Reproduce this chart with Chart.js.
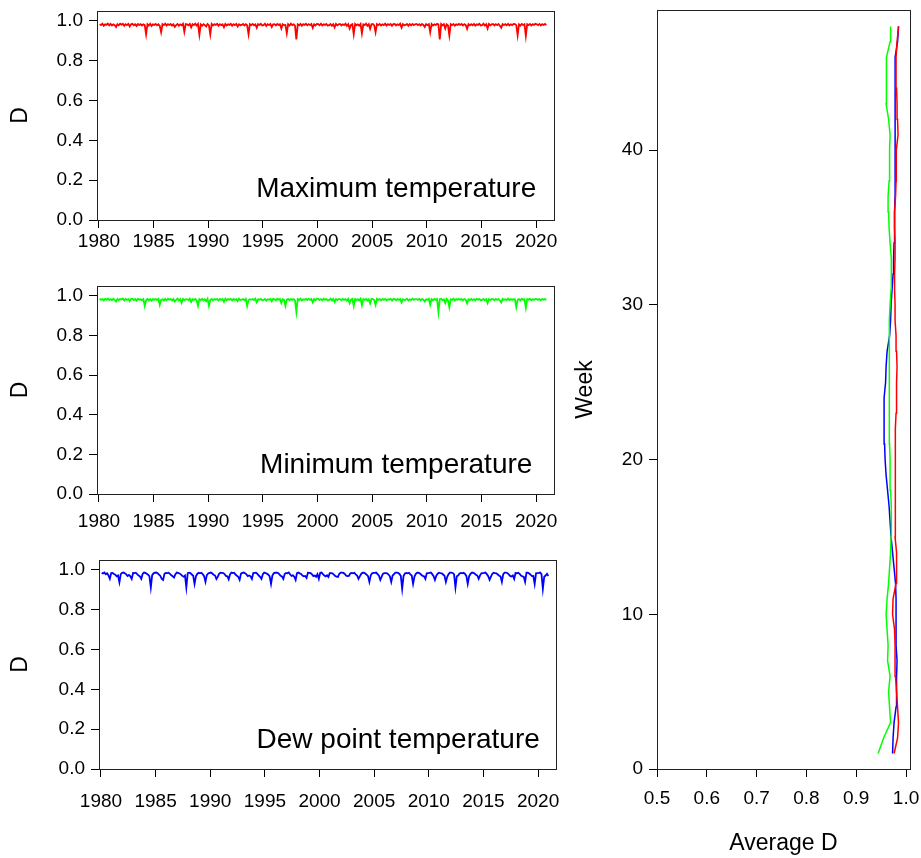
<!DOCTYPE html>
<html lang="en">
<head>
<meta charset="UTF-8" />
<title>D index by variable</title>
<script src="https://cdn.jsdelivr.net/npm/chart.js"></script>
<style>
  html, body { margin: 0; padding: 0; background: #fff; }
  body { width: 921px; height: 858px; position: relative; overflow: hidden; }
  canvas { position: absolute; }
  #maxChart { left: 0; top: 0; }
  #minChart { left: 0; top: 275px; }
  #dewChart { left: 0; top: 549px; }
  #weekChart { left: 570px; top: 0; }
</style>
</head>
<body>
<canvas id="maxChart" width="570" height="270"></canvas>
<canvas id="minChart" width="570" height="270"></canvas>
<canvas id="dewChart" width="570" height="270"></canvas>
<canvas id="weekChart" width="351" height="858"></canvas>

<script>
// ---- data ----
const YEAR_START = 1980;
const PER_YEAR = 8;   // values per year in the series below

const yearTicks = [1980, 1985, 1990, 1995, 2000, 2005, 2010, 2015, 2020];
const dTicks = [0, 0.2, 0.4, 0.6, 0.8, 1.0];
const weekTicks = [0, 10, 20, 30, 40];
const avgTicks = [0.5, 0.6, 0.7, 0.8, 0.9, 1.0];

// D x1000, one row per year (1980..2020)
const maxTemp = [
  984,979,986,976,983,980,987,978,
  985,977,983,979,970,984,978,986,
  981,986,976,984,979,985,972,983,
  986,978,983,975,985,980,984,977,
  983,979,933,984,977,986,975,983,
  980,985,978,983,975,943,984,979,
  986,977,984,980,985,976,983,970,
  979,985,976,983,978,986,946,984,
  983,978,985,968,984,979,986,977,
  985,931,983,976,984,979,972,985,
  978,933,985,977,984,980,986,976,
  984,979,983,968,985,977,983,980,
  986,976,984,979,985,972,983,978,
  980,985,977,984,978,933,984,979,
  985,978,983,966,984,980,986,977,
  979,986,975,984,979,985,970,983,
  984,977,985,980,983,962,984,979,
  980,938,984,977,986,979,983,976,
  907,983,978,985,976,984,980,986,
  978,984,979,985,965,983,977,985,
  984,978,986,977,983,980,985,976,
  979,985,976,984,968,985,978,983,
  985,977,983,979,986,975,984,962,
  980,984,933,985,978,983,976,985,
  938,983,979,986,976,984,960,983,
  985,978,943,984,979,985,977,983,
  979,986,977,984,980,985,976,984,
  985,977,983,979,986,966,984,978,
  980,985,976,984,978,985,979,983,
  985,979,984,977,985,980,970,984,
  979,984,943,985,977,983,979,986,
  983,907,985,978,984,962,983,977,
  928,984,979,985,976,983,980,985,
  980,985,977,984,979,960,984,978,
  984,978,985,976,983,980,986,977,
  979,986,977,984,962,985,978,983,
  985,977,984,979,985,976,966,984,
  980,984,978,985,977,983,979,985,
  984,979,928,983,976,985,980,984,
  925,983,979,985,977,984,980,986,
  983,979,985,977,984,980,985,979
];

const minTemp = [
  986,980,984,977,985,981,987,979,
  984,978,986,980,972,985,979,984,
  982,987,977,985,980,984,974,985,
  985,979,984,976,986,981,983,978,
  984,950,978,985,977,984,976,984,
  981,984,979,985,955,980,983,977,
  985,978,986,981,984,977,984,972,
  980,986,977,984,965,985,979,983,
  984,979,986,970,983,980,985,978,
  950,984,978,985,977,983,974,986,
  950,979,985,978,984,981,985,977,
  985,980,984,970,986,978,984,981,
  985,977,985,980,984,974,986,979,
  981,984,978,985,950,979,983,980,
  984,979,986,968,983,981,985,978,
  980,985,976,983,980,984,972,985,
  983,978,986,981,984,964,983,980,
  950,981,985,978,984,980,984,977,
  920,984,979,986,977,983,981,985,
  979,985,980,984,967,984,978,986,
  985,979,984,978,986,981,984,977,
  980,986,977,985,970,984,979,984,
  984,978,985,980,984,976,985,964,
  981,985,950,984,979,984,977,986,
  953,984,980,985,977,983,962,985,
  984,979,955,985,980,984,978,984,
  980,985,978,983,981,986,977,985,
  984,978,985,980,984,967,983,979,
  981,986,977,983,979,986,980,984,
  984,980,985,978,984,981,972,983,
  980,985,955,984,978,985,980,984,
  920,984,986,979,983,964,985,978,
  943,983,980,986,977,984,981,984,
  981,984,978,985,980,962,983,979,
  985,979,984,977,986,981,984,978,
  980,985,978,983,964,984,979,985,
  984,978,985,980,984,977,967,985,
  981,983,979,986,978,984,980,984,
  983,943,980,984,977,986,981,983,
  940,984,980,986,978,983,981,985,
  984,980,984,978,985,981,984,980
];

const dewTemp = [
  986,982,987,978,983,972,955,984,
  985,980,976,968,972,938,979,986,
  987,983,978,970,975,968,955,985,
  984,986,979,972,968,955,980,987,
  985,981,976,968,912,974,983,986,
  987,983,977,970,955,950,981,985,
  984,986,980,973,968,962,979,987,
  985,982,978,970,966,972,912,984,
  986,984,977,971,930,968,980,986,
  983,986,979,969,940,974,982,985,
  987,982,976,972,955,966,981,986,
  985,984,979,970,968,953,978,987,
  984,986,977,971,966,950,982,985,
  987,983,978,969,972,968,955,984,
  985,986,980,972,966,955,979,987,
  984,982,976,968,930,972,983,986,
  986,985,979,971,967,955,980,985,
  983,987,977,970,973,966,950,984,
  987,983,980,972,968,970,960,986,
  985,984,978,969,972,966,979,955,
  986,987,979,972,968,973,965,984,
  984,983,977,970,966,965,981,987,
  987,985,980,971,969,970,982,985,
  983,986,978,972,955,968,980,986,
  986,982,976,969,940,973,983,985,
  985,987,979,971,950,966,981,984,
  984,983,977,968,940,972,979,987,
  987,985,980,970,905,969,982,985,
  983,986,978,972,930,967,980,986,
  986,982,976,970,968,955,983,984,
  985,987,979,969,950,971,981,986,
  984,983,977,971,940,966,979,987,
  987,985,978,912,968,972,982,985,
  983,986,980,970,930,968,980,986,
  986,982,976,972,955,973,983,984,
  985,987,979,969,950,966,981,986,
  984,983,977,971,968,940,979,987,
  987,985,978,970,967,972,955,985,
  983,986,980,972,968,966,940,986,
  986,982,976,969,970,930,983,984,
  985,987,979,905,966,972,981,970
];

// average D by week (x1000)
const weeks = Array.from({ length: 48 }, (_, i) => i + 1);
const avgMax = [976,983,985,983,981,979,978,978,977,973,
                974,980,981,981,978,978,979,979,978,979,
                978,979,980,981,981,982,981,980,978,978,
                977,977,978,978,977,977,979,980,981,980,
                984,983,982,981,980,980,982,985];
const avgMin = [944,955,969,967,965,968,963,964,962,960,
                962,965,967,969,970,971,970,969,968,968,
                967,967,966,966,967,967,966,966,967,968,
                970,971,970,968,966,965,964,966,967,967,
                968,965,960,961,961,960,968,969];
const avgDew = [973,974,976,980,981,981,982,980,980,980,
                980,979,976,973,970,968,966,963,960,958,
                957,956,956,956,959,960,962,967,969,970,
                972,974,975,976,977,977,978,978,978,978,
                979,978,978,978,978,978,983,985];

// ---- chart helpers ----
const FONT = "'Liberation Sans', Arial, sans-serif";
Chart.defaults.font.family = FONT;
Chart.defaults.color = '#000';

const boxPlugin = {
  id: 'plotBox',
  afterDraw(chart) {
    const a = chart.chartArea, ctx = chart.ctx;
    ctx.save();
    ctx.strokeStyle = '#222';
    ctx.lineWidth = 1;
    ctx.strokeRect(Math.round(a.left) + 0.5, Math.round(a.top) + 0.5,
                   Math.round(a.right - a.left), Math.round(a.bottom - a.top));
    const lbl = chart.options.plugins.panelLabel;
    if (lbl && lbl.text) {
      ctx.fillStyle = '#000';
      ctx.font = '28px ' + FONT;
      ctx.textAlign = 'center';
      ctx.textBaseline = 'alphabetic';
      ctx.fillText(lbl.text, chart.scales.x.getPixelForValue(lbl.at), a.bottom - lbl.lift);
    }
    ctx.restore();
  }
};

function fixedTicks(values) {
  return s => { s.ticks = values.map(v => ({ value: v })); };
}
function fixWidth(w) {
  return s => { s.width = w; s.paddingTop = 0; s.paddingBottom = 0; };
}
function fixHeight(h) {
  return s => { s.height = h; s.paddingLeft = 0; s.paddingRight = 0; };
}

const tickGrid = { display: true, drawOnChartArea: false, drawTicks: true, tickLength: 8, color: '#000', lineWidth: 1 };

function toSeries(vals) {
  return vals.map((v, i) => ({ x: YEAR_START + (i + 0.5) / PER_YEAR, y: v / 1000 }));
}

function seriesChart(id, vals, color, label, box) {
  new Chart(document.getElementById(id), {
    type: 'scatter',
    data: {
      datasets: [{
        data: toSeries(vals),
        showLine: true,
        borderColor: color,
        borderWidth: 1.8,
        borderJoinStyle: 'miter',
        pointRadius: 0,
        tension: 0
      }]
    },
    options: {
      responsive: false,
      animation: false,
      layout: { padding: { left: 0, right: box.right, top: 11, bottom: 0 } },
      plugins: {
        legend: { display: false },
        tooltip: { enabled: false },
        panelLabel: { text: label, at: 2007.2, lift: box.lift }
      },
      scales: {
        x: {
          type: 'linear', bounds: 'data', min: 1979.82, max: 2021.64,
          grid: tickGrid, border: { display: false },
          ticks: { font: { size: 19 }, padding: box.xPad, maxRotation: 0, callback: v => String(v) },
          afterBuildTicks: fixedTicks(yearTicks),
          afterFit: fixHeight(270 - box.bottom)
        },
        y: {
          type: 'linear', bounds: 'data', min: 0, max: 1.05,
          grid: tickGrid, border: { display: false },
          ticks: { font: { size: 19 }, padding: 6, callback: v => v.toFixed(1) },
          afterBuildTicks: fixedTicks(dTicks),
          afterFit: fixWidth(box.left),
          title: { display: true, text: 'D', font: { size: 23 }, padding: { top: 7, bottom: 0 } }
        }
      }
    },
    plugins: [boxPlugin]
  });
}

seriesChart('maxChart', maxTemp, '#ff0000', 'Maximum temperature',
  { left: 97, right: 16, bottom: 220, xPad: 2, lift: 23 });
seriesChart('minChart', minTemp, '#00ff00', 'Minimum temperature',
  { left: 97, right: 16, bottom: 219, xPad: 8, lift: 21 });
seriesChart('dewChart', dewTemp, '#0000ff', 'Dew point temperature',
  { left: 99, right: 14, bottom: 220, xPad: 13, lift: 21 });

function weekLine(vals, color) {
  return {
    data: vals.map((v, i) => ({ x: v / 1000, y: weeks[i] })),
    showLine: true,
    borderColor: color,
    borderWidth: 1.5,
    pointRadius: 0,
    tension: 0
  };
}

new Chart(document.getElementById('weekChart'), {
  type: 'scatter',
  data: {
    datasets: [
      weekLine(avgMin, '#00ff00'),
      weekLine(avgMax, '#ff0000'),
      weekLine(avgDew, '#0000ff')
    ]
  },
  options: {
    responsive: false,
    animation: false,
    layout: { padding: { left: 0, right: 11, top: 10, bottom: 0 } },
    plugins: { legend: { display: false }, tooltip: { enabled: false } },
    scales: {
      x: {
        type: 'linear', bounds: 'data', min: 0.5, max: 1.008,
        grid: tickGrid, border: { display: false },
        ticks: { font: { size: 19 }, padding: 10, maxRotation: 0, callback: v => v.toFixed(1) },
        afterBuildTicks: fixedTicks(avgTicks),
        afterFit: fixHeight(89),
        title: { display: true, text: 'Average D', font: { size: 23 }, padding: { top: 0, bottom: 1 } }
      },
      y: {
        type: 'linear', bounds: 'data', min: 0, max: 49.06,
        grid: tickGrid, border: { display: false },
        ticks: { font: { size: 19 }, padding: 6, callback: v => String(v) },
        afterBuildTicks: fixedTicks(weekTicks),
        afterFit: fixWidth(87),
        title: { display: true, text: 'Week', font: { size: 23 }, padding: { top: 2, bottom: 0 } }
      }
    }
  },
  plugins: [boxPlugin]
});
</script>
</body>
</html>
